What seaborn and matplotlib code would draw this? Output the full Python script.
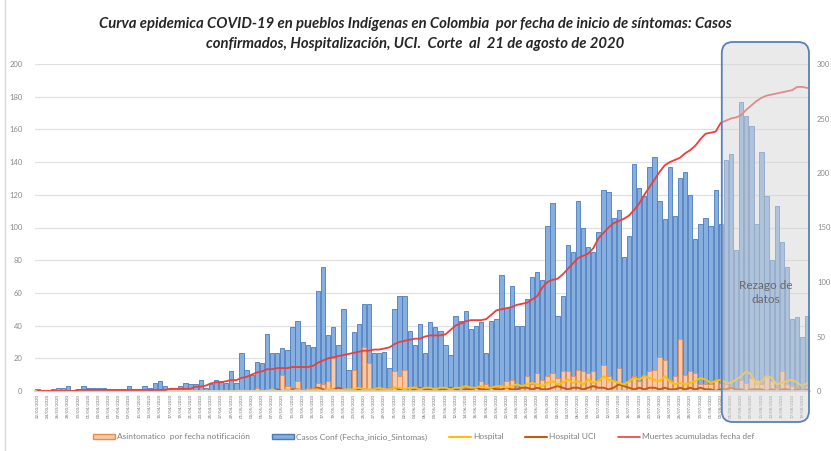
import numpy as np
import pandas as pd
import matplotlib
matplotlib.use("Agg")
import matplotlib.pyplot as plt
import seaborn as sns
from matplotlib.patches import FancyBboxPatch, Patch
from matplotlib.lines import Line2D
from matplotlib.transforms import IdentityTransform

# Casos confirmados por fecha de inicio de sintomas (eje izquierdo)
casos_conf = [1, 0, 0, 1, 2, 2, 3, 0, 1, 3, 2, 2, 2, 2, 1, 0, 1, 0, 3, 1, 0, 3, 2, 5, 6, 3, 1, 2, 3, 5,
              4, 4, 7, 2, 4, 7, 6, 5, 12, 5, 23, 13, 10, 18, 17, 35, 23, 23, 26, 25, 39, 43, 30, 28, 27, 61, 76, 34, 39, 28,
              50, 13, 36, 41, 53, 53, 23, 23, 24, 14, 50, 58, 58, 37, 28, 41, 23, 42, 39, 37, 28, 22, 46, 43, 49, 38, 40, 42, 23, 43,
              44, 71, 51, 64, 40, 40, 56, 70, 73, 68, 101, 115, 46, 58, 89, 85, 116, 100, 88, 85, 97, 123, 122, 106, 111, 82, 95, 139, 124, 119,
              137, 143, 116, 105, 137, 107, 130, 134, 120, 93, 102, 106, 101, 123, 102, 141, 145, 86, 177, 168, 162, 102, 146, 119, 80, 113, 91, 76, 44, 45,
              33, 46]

# Asintomaticos por fecha de notificacion
asintomatico = [0, 0, 0, 0, 0, 0, 0, 0, 0, 0, 0, 0, 0, 0, 0, 0, 0, 0, 0, 0, 0, 0, 0, 0, 0, 0, 0, 0, 0, 0,
                0, 0, 0, 0, 0, 0, 0, 0, 0, 0, 1, 0, 0, 2, 0, 1, 0, 1, 10, 3, 2, 6, 1, 2, 1, 5, 4, 6, 20, 2,
                1, 0, 13, 2, 27, 17, 2, 1, 2, 1, 12, 9, 13, 2, 3, 2, 1, 2, 1, 2, 1, 2, 1, 2, 2, 1, 2, 6, 4, 2,
                2, 3, 6, 7, 2, 3, 9, 4, 11, 7, 9, 11, 8, 12, 12, 9, 13, 12, 11, 12, 7, 16, 9, 6, 14, 4, 6, 9, 6, 10,
                12, 13, 21, 19, 7, 9, 32, 10, 12, 11, 4, 4, 4, 7, 5, 4, 3, 2, 7, 5, 8, 7, 4, 10, 6, 2, 12, 4, 3, 2,
                1, 3]

hospital = [0, 0, 0, 0, 0, 0, 0, 0, 0, 0, 0, 0, 0, 0, 0, 0, 0, 0, 0, 0, 0, 0, 0, 0, 0, 0, 0, 0, 0, 0,
            0, 0, 0, 0, 0, 0, 0, 0, 0, 0, 0, 0, 0, 0, 0, 0, 1, 0, 0, 1, 0, 1, 0, 0, 1, 1, 0, 1, 1, 0,
            1, 1, 1, 2, 1, 1, 1, 2, 1, 1, 2, 2, 1, 2, 2, 1, 2, 2, 1, 2, 2, 1, 2, 2, 3, 2, 2, 3, 2, 2,
            3, 3, 2, 3, 4, 3, 4, 5, 4, 3, 5, 6, 4, 5, 7, 5, 6, 4, 7, 5, 6, 9, 7, 6, 5, 4, 6, 8, 7, 9,
            8, 7, 6, 9, 6, 4, 5, 4, 5, 6, 8, 7, 5, 6, 7, 5, 5, 7, 9, 12, 10, 4, 6, 9, 8, 4, 5, 6, 7, 5,
            3, 5]

hospital_uci = [0, 0, 0, 0, 0, 0, 0, 0, 0, 0, 0, 0, 0, 0, 0, 0, 0, 0, 0, 0, 0, 0, 0, 0, 0, 0, 0, 0, 0, 0,
                0, 0, 0, 0, 0, 0, 0, 0, 0, 0, 0, 0, 0, 0, 0, 0, 0, 1, 0, 0, 1, 1, 0, 0, 1, 2, 1, 0, 1, 2,
                1, 0, 0, 1, 1, 0, 1, 0, 0, 1, 2, 1, 1, 0, 1, 2, 1, 1, 0, 1, 1, 2, 1, 0, 1, 1, 2, 1, 1, 2,
                1, 1, 2, 1, 1, 2, 2, 1, 2, 1, 1, 2, 3, 2, 1, 2, 2, 1, 2, 3, 2, 2, 1, 2, 4, 3, 2, 1, 2, 1,
                2, 2, 1, 2, 1, 1, 2, 1, 2, 1, 2, 1, 1, 0, 1, 1, 2, 1, 1, 0, 1, 1, 1, 0, 1, 0, 1, 1, 0, 1,
                0, 1]

# Muertes acumuladas (eje derecho)
muertes_acum = [0, 0, 0, 0, 0, 0, 0, 0, 1, 1, 1, 1, 1, 1, 1, 1, 1, 1, 1, 1, 1, 1, 1, 1, 1, 1, 2, 2, 2, 2,
                2, 4, 4, 5, 7, 8, 8, 9, 10, 10, 12, 13, 15, 17, 18, 20, 20, 21, 21, 21, 22, 22, 22, 22, 23, 26, 28, 30, 31, 32,
                33, 34, 35, 36, 37, 37, 38, 38, 39, 40, 43, 45, 46, 47, 48, 48, 50, 51, 51, 51, 52, 56, 60, 62, 64, 65, 65, 65, 66, 70,
                74, 75, 76, 77, 79, 80, 81, 84, 87, 95, 100, 102, 103, 107, 112, 117, 122, 124, 126, 131, 140, 145, 150, 154, 156, 158, 161, 166, 172, 180,
                187, 194, 201, 207, 210, 212, 214, 218, 221, 225, 231, 236, 237, 238, 246, 248, 250, 251, 253, 258, 262, 266, 269, 271, 272, 273, 274, 275, 276, 279,
                279, 278]

fecha_fin = "2020-08-20"
inicio_rezago = 135  # primer dia del periodo "Rezago de datos"

titulo_1 = "Curva epidemica COVID-19 en pueblos Indígenas en Colombia  por fecha de inicio de síntomas: Casos"
titulo_2 = "confirmados, Hospitalización, UCI.  Corte  al  21 de agosto de 2020"

n = len(casos_conf)
fechas = pd.date_range(end=fecha_fin, periods=n, freq="D")
df = pd.DataFrame({
    "pos": np.arange(n),
    "casos": casos_conf,
    "asint": asintomatico,
    "hosp": hospital,
    "uci": hospital_uci,
    "muertes": muertes_acum,
})

sns.set_theme(style="white")
plt.rcParams["font.family"] = ["Lato", "DejaVu Sans"]

fig = plt.figure(figsize=(8.31, 4.51), dpi=100)
ax = fig.add_axes([35 / 831, 60 / 451, 775 / 831, 327 / 451])

c_blue, c_blue_edge = "#86afe0", "#4a7bbd"
c_orange, c_orange_edge = "#f9c8a4", "#ee8a4a"
c_yellow, c_uci, c_red = "#ffc000", "#c55a11", "#f03c3c"

sns.barplot(data=df, x="pos", y="casos", ax=ax, native_scale=True, color=c_blue,
            edgecolor=c_blue_edge, linewidth=0.6, width=0.85, saturation=1, errorbar=None)
sns.barplot(data=df, x="pos", y="asint", ax=ax, native_scale=True, color=c_orange,
            edgecolor=c_orange_edge, linewidth=0.5, width=0.85, saturation=1, errorbar=None)
sns.lineplot(data=df, x="pos", y="uci", ax=ax, color=c_uci, linewidth=1.4, legend=False)
sns.lineplot(data=df, x="pos", y="hosp", ax=ax, color=c_yellow, linewidth=1.4, legend=False)

ax2 = ax.twinx()
sns.lineplot(data=df, x="pos", y="muertes", ax=ax2, color=c_red, linewidth=1.3, legend=False)

ax.set_xlim(-0.5, n - 0.5)
ax.set_ylim(0, 200)
ax2.set_ylim(0, 300)
ax.set_yticks(np.arange(0, 201, 20))
ax2.set_yticks(np.arange(0, 301, 50))
ax.yaxis.grid(True, color="#e0e0e0", linewidth=0.9)
ax.set_axisbelow(True)

ax.set_xticks(df["pos"][::2])
ax.set_xticklabels(fechas[::2].strftime("%d/%m/%Y"), rotation=90, fontsize=3.2, color="#6f6f6f")
ax.tick_params(axis="x", length=0, pad=2)
ax.tick_params(axis="y", length=0, labelsize=5.5, labelcolor="#8a8a8a", pad=9)
ax2.tick_params(axis="y", length=0, labelsize=5.5, labelcolor="#8a8a8a", pad=5)
for a in (ax, ax2):
    a.set_xlabel("")
    a.set_ylabel("")
    for s in a.spines.values():
        s.set_visible(False)
ax.spines["bottom"].set_visible(True)
ax.spines["bottom"].set_color("#d0d0d0")

fig.text(0.5, 0.947, titulo_1, ha="center", va="center", fontsize=10.7, style="italic",
         weight="bold", color="#262626")
fig.text(0.5, 0.902, titulo_2, ha="center", va="center", fontsize=10.7, style="italic",
         weight="bold", color="#262626")

# cuadro "Rezago de datos"
fig.canvas.draw()
x0 = ax.transData.transform((inicio_rezago - 0.8, 0))[0]
x1 = ax.transData.transform((n - 0.7, 0))[0]
caja = FancyBboxPatch((x0, 29), x1 - x0, 380, boxstyle="round,pad=0,rounding_size=11",
                      transform=IdentityTransform(), facecolor=(0.84, 0.84, 0.84, 0.5),
                      edgecolor="#5b7fb8", linewidth=1.3, zorder=5)
fig.add_artist(caja)
fig.text((x0 + x1) / 2 / 831, 0.352, "Rezago de\ndatos", ha="center", va="center",
         fontsize=8.5, color="#6a6a6a", linespacing=1.3, zorder=6)

fig.add_artist(Line2D([0.006, 0.006], [0, 1], color="#d9d9d9", linewidth=1))

handles = [
    Patch(facecolor=c_orange, edgecolor=c_orange_edge, linewidth=1),
    Patch(facecolor=c_blue, edgecolor=c_blue_edge, linewidth=1),
    Line2D([], [], color=c_yellow, linewidth=1.5),
    Line2D([], [], color=c_uci, linewidth=1.5),
    Line2D([], [], color=c_red, linewidth=1.2),
]
labels = ["Asintomatico  por fecha notificación", "Casos Conf (Fecha_inicio_Sintomas)",
          "Hospital", "Hospital UCI", "Muertes acumuladas fecha def"]
fig.legend(handles, labels, loc="center", bbox_to_anchor=(0.51, 0.031), ncol=5, frameon=False,
           fontsize=6.0, labelcolor="#7f7f7f", columnspacing=2.6, handlelength=2.6,
           handleheight=0.6, handletextpad=0.3)

fig.savefig("out.png", dpi=100)
